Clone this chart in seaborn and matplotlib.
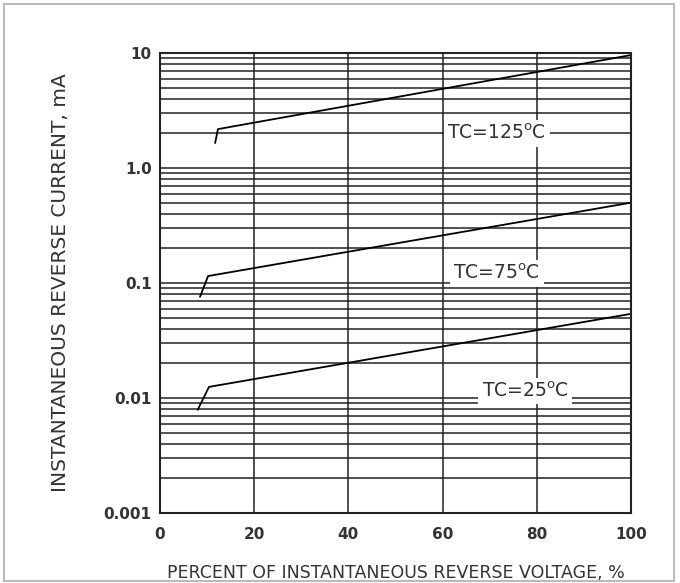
import matplotlib
matplotlib.use("Agg")
import matplotlib.pyplot as plt
import seaborn as sns
import pandas as pd
from matplotlib.patches import Rectangle

sns.set_theme(style="white")
plt.rcParams['font.family'] = ['DejaVu Sans']

# data
x_125 = [11.7, 12.3, 100]
y_125 = [1.65, 2.18, 9.6]
x_75 = [8.5, 10.2, 100]
y_75 = [0.076, 0.115, 0.50]
x_25 = [8.0, 10.4, 100]
y_25 = [0.0079, 0.0125, 0.054]

series_labels = ["TC=125$^\\mathrm{o}$C", "TC=75$^\\mathrm{o}$C", "TC=25$^\\mathrm{o}$C"]
label_pos = [(71.5, 2.0), (71.5, 0.121), (77.5, 0.0115)]

x_ticks = [0, 20, 40, 60, 80, 100]
y_ticks = [0.001, 0.01, 0.1, 1, 10]
y_tick_labels = ["0.001", "0.01", "0.1", "1.0", "10"]

fig = plt.figure(figsize=(6.8, 5.83), dpi=100)
ax = fig.add_axes([0.2353, 0.120, 0.928 - 0.2353, 0.909 - 0.120])

for xs, ys in [(x_125, y_125), (x_75, y_75), (x_25, y_25)]:
    df = pd.DataFrame({"x": xs, "y": ys})
    sns.lineplot(data=df, x="x", y="y", ax=ax, color="black", linewidth=1.3, sort=False)

ax.set_yscale("log")
ax.set_xlim(0, 100)
ax.set_ylim(0.001, 10)
ax.set_xticks(x_ticks)
ax.set_xticklabels([str(t) for t in x_ticks])
ax.set_yticks(y_ticks)
ax.set_yticklabels(y_tick_labels)
ax.yaxis.set_minor_formatter(matplotlib.ticker.NullFormatter())
ax.grid(True, which="both", axis="y", color="#222222", linewidth=1.1)
ax.grid(True, which="major", axis="x", color="#222222", linewidth=1.1)
ax.tick_params(axis="both", which="both", length=0, labelsize=11, colors="#333333")
for lbl in ax.get_xticklabels() + ax.get_yticklabels():
    lbl.set_fontweight("bold")
ax.tick_params(axis="x", pad=10)
ax.tick_params(axis="y", pad=6)
for s in ax.spines.values():
    s.set_color("#222222")
    s.set_linewidth(1.5)

for (lx, ly), txt in zip(label_pos, series_labels):
    ax.text(lx, ly, txt, ha="center", va="center", fontsize=13.5, color="#333333",
            bbox=dict(facecolor="white", edgecolor="none", pad=2.5))

ax.set_xlabel("PERCENT OF INSTANTANEOUS REVERSE VOLTAGE, %", fontsize=12.5,
              color="#333333", labelpad=16)
ax.set_ylabel("INSTANTANEOUS REVERSE CURRENT, mA", fontsize=14.5,
              color="#333333", labelpad=24)

fig.patches.append(Rectangle((4 / 680, 2 / 583), 670 / 680, 577 / 583,
                             transform=fig.transFigure, fill=False,
                             edgecolor="#bbbbbb", linewidth=1.5))

fig.savefig("out.png", dpi=100)
